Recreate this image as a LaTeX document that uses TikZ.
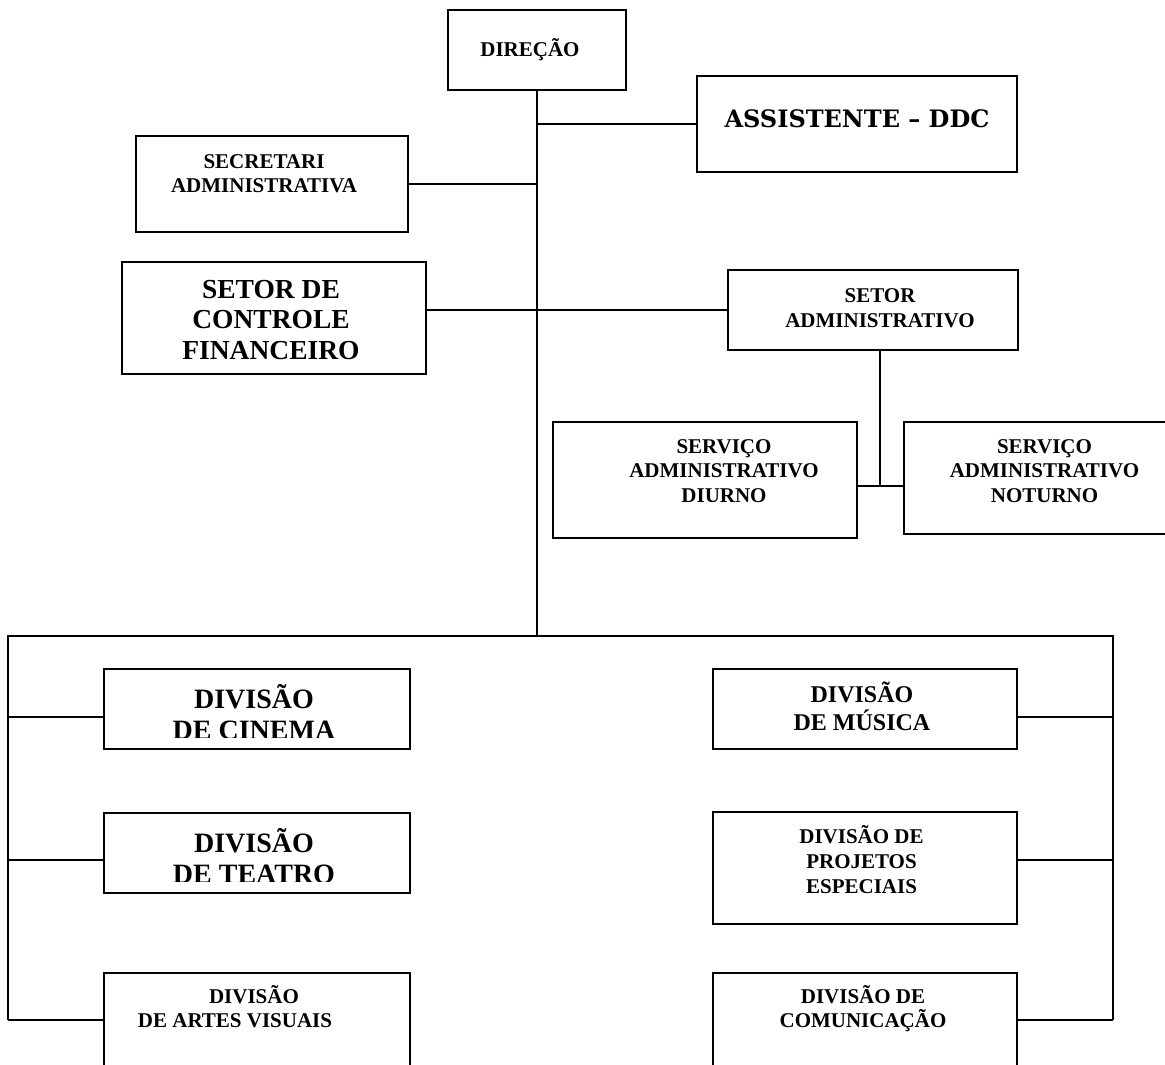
\documentclass[tikz,border=0pt]{standalone}
\usepackage{fontspec}
\setmainfont{Liberation Serif}
\newfontfamily\assistfont{DejaVu Serif}

\begin{document}
\begin{tikzpicture}[x=1pt,y=-1pt,
  box/.style={draw, line width=1.6pt, inner sep=0pt},
  conn/.style={line width=1.6pt},
  lbl/.style={anchor=base, align=center, inner sep=0pt}]
\useasboundingbox (0,0) rectangle (1165,1065);
\clip (0,0) rectangle (1165,1065);

% boxes of the chart
\node[box, minimum width=178, minimum height=80] (dir) at (537,50) {};
\node[box, minimum width=320, minimum height=96] (ass) at (857,124) {};
\node[box, minimum width=272, minimum height=96] (sec) at (272,184) {};
\node[box, minimum width=304, minimum height=112] (ctrl) at (274,318) {};
\node[box, minimum width=290, minimum height=80] (adm) at (873,310) {};
\node[box, minimum width=304, minimum height=116] (diu) at (705,480) {};
\node[box, minimum width=276, minimum height=112] (not) at (1042,478) {};
\node[box, minimum width=306, minimum height=80] (cin) at (257,709) {};
\node[box, minimum width=306, minimum height=80] (tea) at (257,853) {};
\node[box, minimum width=306, minimum height=120] (art) at (257,1033) {};
\node[box, minimum width=304, minimum height=80] (mus) at (865,709) {};
\node[box, minimum width=304, minimum height=112] (pro) at (865,868) {};
\node[box, minimum width=304, minimum height=120] (com) at (865,1033) {};

% texts (base = last line)
\node[lbl, font={\fontsize{21}{24}\selectfont\bfseries}] (tdir) at (530,57) {DIREÇÃO};
\node[lbl, font={\fontsize{24}{28}\selectfont\assistfont\bfseries}] (tass) at (857,128) {ASSISTENTE – DDC};
\node[lbl, font={\fontsize{21}{24}\selectfont\bfseries}] (tsec) at (264,192) {SECRETARI\\ADMINISTRATIVA};
\node[lbl, font={\fontsize{27.5}{30.5}\selectfont\bfseries}] (tctrl) at (271,359) {SETOR DE\\CONTROLE\\FINANCEIRO};
\node[lbl, font={\fontsize{21}{25}\selectfont\bfseries}] (tadm) at (880,327) {SETOR\\ADMINISTRATIVO};
\node[lbl, font={\fontsize{21}{24.5}\selectfont\bfseries}] (tdiu) at (724,502) {SERVIÇO\\ADMINISTRATIVO\\DIURNO};
\node[lbl, font={\fontsize{21}{24.5}\selectfont\bfseries}] (tnot) at (1044.5,502) {SERVIÇO\\ADMINISTRATIVO\\NOTURNO};
\begin{scope}
  \clip (104,669) rectangle (410,737);
  \node[lbl, font={\fontsize{28}{31}\selectfont\bfseries}] (tcin) at (254,739) {DIVISÃO\\DE CINEMA};
\end{scope}
\begin{scope}
  \clip (104,813) rectangle (410,881);
  \node[lbl, font={\fontsize{28}{31}\selectfont\bfseries}] (ttea) at (254,883.5) {DIVISÃO\\DE TEATRO};
\end{scope}
\node[lbl, font={\fontsize{21}{24}\selectfont\bfseries}] (tart) at (235,1027) {\hspace*{38pt}DIVISÃO\\DE ARTES VISUAIS};
\node[lbl, font={\fontsize{24}{28}\selectfont\bfseries}] (tmus) at (862,730) {DIVISÃO\\DE MÚSICA};
\node[lbl, font={\fontsize{21}{25}\selectfont\bfseries}] (tpro) at (861.5,893) {DIVISÃO DE\\PROJETOS\\ESPECIAIS};
\node[lbl, font={\fontsize{21}{24}\selectfont\bfseries}] (tcom) at (863,1027) {DIVISÃO DE\\COMUNICAÇÃO};

% connectors
\coordinate (bl) at (8,636);
\coordinate (br) at (1113,636);
\coordinate (sj) at (880,486);
\draw[conn] (dir.south) -- (dir.south |- bl);
\draw[conn] (dir.south |- ass.west) -- (ass.west);
\draw[conn] (sec.east) -- (sec.east -| dir.south);
\draw[conn] (ctrl.east |- adm.west) -- (adm.west);
\draw[conn] (adm.south -| sj) -- (sj);
\draw[conn] (diu.east |- sj) -- (not.west |- sj);
\draw[conn] (bl |- 0,1020) -- (bl) -- (br) -- (br |- 0,1020);
\foreach \n/\y in {cin/717,tea/860,art/1020}
  \draw[conn] (bl |- 0,\y) -- (\n.west |- 0,\y);
\foreach \n/\y in {mus/717,pro/860,com/1020}
  \draw[conn] (\n.east |- 0,\y) -- (br |- 0,\y);
\end{tikzpicture}
\end{document}
